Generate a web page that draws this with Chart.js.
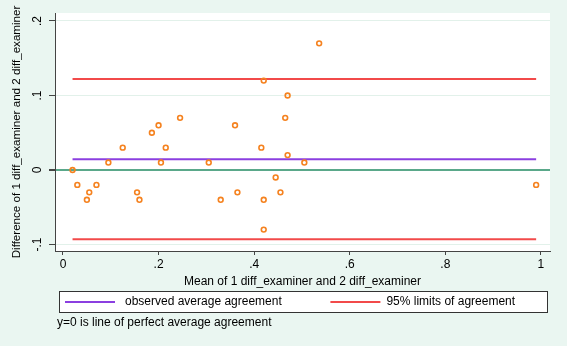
<!DOCTYPE html>
<html>
<head>
<meta charset="utf-8">
<script src="https://cdn.jsdelivr.net/npm/chart.js@4.4.1/dist/chart.umd.min.js"></script>
<style>
  html, body { margin: 0; padding: 0; background: #eaf6f1; }
  #wrap { width: 567px; height: 346px; }
</style>
</head>
<body>
<div id="wrap"><canvas id="baChart" width="567" height="346"></canvas></div>
<script>
// Bland-Altman data: mean of the two examiners vs their difference
var meanValues = [0.02, 0.03, 0.05, 0.055, 0.07, 0.095, 0.125, 0.155, 0.16, 0.186, 0.20, 0.205, 0.215, 0.245,
                  0.305, 0.33, 0.36, 0.365, 0.415, 0.42, 0.42, 0.42, 0.445, 0.455, 0.465, 0.47, 0.47, 0.505, 0.536, 0.99];
var diffValues = [0.00, -0.02, -0.04, -0.03, -0.02, 0.01, 0.03, -0.03, -0.04, 0.05, 0.06, 0.01, 0.03, 0.07,
                  0.01, -0.04, 0.06, -0.03, 0.03, 0.12, -0.04, -0.08, -0.01, -0.03, 0.07, 0.10, 0.02, 0.01, 0.17, -0.02];

var meanDiff = 0.0145;      // observed average agreement
var upperLimit = 0.122;     // 95% limits of agreement
var lowerLimit = -0.093;
var lineStart = 0.02;       // lines run over the range of the means
var lineEnd = 0.99;

var xTicks = [0, 0.2, 0.4, 0.6, 0.8, 1];
var yTicks = [-0.1, 0, 0.1, 0.2];

var legendLabels = ['observed average agreement', '95% limits of agreement'];
var legendColors = ['#8b3fe0', '#f24a4a'];
var noteText = 'y=0 is line of perfect average agreement';

// Stata style tick labels: .2 instead of 0.2
function stataNum(v) {
  var s = String(Math.round(v * 10) / 10);
  return s.replace('0.', '.');
}

var points = meanValues.map(function (m, i) { return { x: m, y: diffValues[i] }; });

// white plot region, legend box and footnote
var stataFrame = {
  id: 'stataFrame',
  beforeDraw: function (chart) {
    var a = chart.chartArea, ctx = chart.ctx;
    ctx.save();
    ctx.fillStyle = '#ffffff';
    ctx.fillRect(a.left, a.top, a.right - a.left, a.bottom - a.top);
    ctx.restore();
  },
  afterDraw: function (chart) {
    var a = chart.chartArea, ctx = chart.ctx;
    var boxLeft = a.left + 4, boxRight = a.right - 2;
    var boxTop = a.bottom + 40, boxBottom = boxTop + 22;
    ctx.save();
    ctx.fillStyle = '#ffffff';
    ctx.fillRect(boxLeft, boxTop, boxRight - boxLeft, boxBottom - boxTop);
    ctx.strokeStyle = '#333333';
    ctx.lineWidth = 1;
    ctx.strokeRect(boxLeft + 0.5, boxTop + 0.5, boxRight - boxLeft - 1, boxBottom - boxTop - 1);

    var midY = (boxTop + boxBottom) / 2;
    var starts = [boxLeft + 6, boxLeft + 0.555 * (boxRight - boxLeft)];
    ctx.font = '12px "Liberation Sans", Arial, sans-serif';
    ctx.textBaseline = 'middle';
    ctx.fillStyle = '#000000';
    legendLabels.forEach(function (lab, i) {
      ctx.strokeStyle = legendColors[i];
      ctx.lineWidth = 2;
      ctx.beginPath();
      ctx.moveTo(starts[i], midY);
      ctx.lineTo(starts[i] + 50, midY);
      ctx.stroke();
      ctx.fillText(lab, starts[i] + 60 - i * 4, midY);
    });

    ctx.fillText(noteText, a.left + 2, boxBottom + 10);
    ctx.restore();
  }
};

var ctx = document.getElementById('baChart').getContext('2d');
Chart.defaults.font.family = '"Liberation Sans", Arial, sans-serif';
Chart.defaults.font.size = 12;
Chart.defaults.color = '#000000';

var baChart = new Chart(ctx, {
  type: 'scatter',
  data: {
    datasets: [
      {
        label: 'difference',
        data: points,
        pointStyle: 'circle',
        pointRadius: 2.4,
        pointBorderWidth: 1.6,
        pointBorderColor: '#f5821f',
        pointBackgroundColor: 'rgba(255,255,255,0)',
        showLine: false,
        order: 1
      },
      {
        label: legendLabels[0],
        data: [{ x: lineStart, y: meanDiff }, { x: lineEnd, y: meanDiff }],
        showLine: true,
        borderColor: legendColors[0],
        borderWidth: 2,
        pointRadius: 0,
        order: 2
      },
      {
        label: legendLabels[1],
        data: [{ x: lineStart, y: upperLimit }, { x: lineEnd, y: upperLimit }],
        showLine: true,
        borderColor: legendColors[1],
        borderWidth: 2,
        pointRadius: 0,
        order: 2
      },
      {
        label: 'lower limit',
        data: [{ x: lineStart, y: lowerLimit }, { x: lineEnd, y: lowerLimit }],
        showLine: true,
        borderColor: legendColors[1],
        borderWidth: 2,
        pointRadius: 0,
        order: 2
      }
    ]
  },
  options: {
    responsive: false,
    animation: false,
    layout: { padding: { top: 13, right: 17, bottom: 56, left: 0 } },
    plugins: {
      legend: { display: false },
      tooltip: { enabled: false }
    },
    scales: {
      x: {
        type: 'linear',
        min: -0.0167,
        max: 1.019,
        afterBuildTicks: function (s) { s.ticks = xTicks.map(function (v) { return { value: v }; }); },
        afterFit: function (s) { s.height = 39; },
        ticks: { padding: 2, maxRotation: 0, callback: function (v) { return stataNum(v); } },
        grid: { drawOnChartArea: false, drawTicks: true, tickLength: 4, color: '#444444' },
        border: { color: '#444444', width: 1 },
        title: {
          display: true,
          text: 'Mean of 1 diff_examiner and 2 diff_examiner',
          padding: { top: 0, bottom: 1 }
        }
      },
      y: {
        type: 'linear',
        min: -0.1087,
        max: 0.2107,
        afterBuildTicks: function (s) { s.ticks = yTicks.map(function (v) { return { value: v }; }); },
        afterFit: function (s) { s.width = 55; },
        ticks: {
          padding: 4,
          minRotation: 90,
          maxRotation: 90,
          crossAlign: 'center',
          callback: function (v) { return stataNum(v); }
        },
        grid: {
          drawTicks: true,
          tickLength: 6,
          tickColor: '#444444',
          lineWidth: function (c) { return c.tick && c.tick.value === 0 ? 2 : 1; },
          color: function (c) { return c.tick && c.tick.value === 0 ? '#5aa88a' : '#e2f1ea'; }
        },
        border: { color: '#444444', width: 1 },
        title: {
          display: true,
          text: 'Difference of 1 diff_examiner and 2 diff_examiner',
          font: { size: 11.6 },
          padding: { top: 10, bottom: 0 }
        }
      }
    }
  },
  plugins: [stataFrame]
});
</script>
</body>
</html>
